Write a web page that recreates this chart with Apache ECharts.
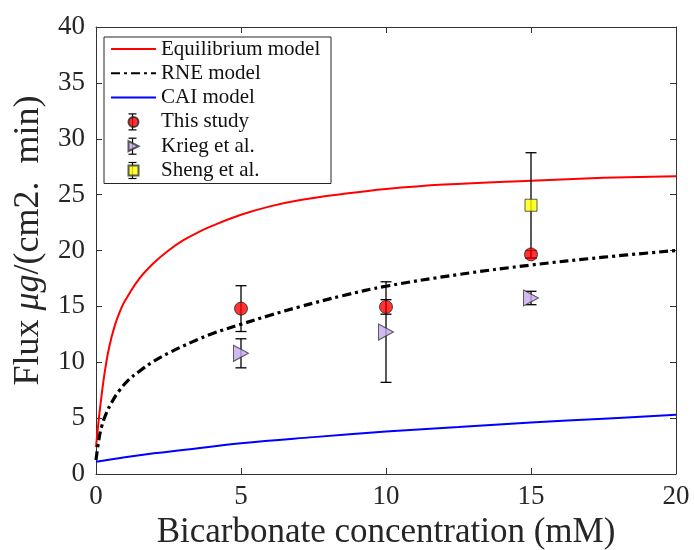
<!DOCTYPE html>
<html><head><meta charset="utf-8">
<script src="https://cdn.jsdelivr.net/npm/echarts@6/dist/echarts.min.js"></script>
<style>html,body{margin:0;padding:0;background:#fff}#c{width:694px;height:550px}</style>
</head><body><div id="c"></div>
<script>
// ---- data ----
const xTicks = [0, 5, 10, 15, 20];
const yTicks = [0, 5, 10, 15, 20, 25, 30, 35, 40];

const equilibriumX = [0, 0.1, 0.2, 0.3, 0.45, 0.65, 0.85, 1.0, 1.5, 2.0, 2.5, 3.0, 3.5, 4.0, 5.0, 6.0, 7.0, 8.5, 10, 12, 15, 17.5, 20];
const equilibriumY = [2.4, 5.0, 7.2, 9.1, 11.3, 13.3, 14.7, 15.5, 17.5, 18.9, 20.0, 20.9, 21.6, 22.2, 23.2, 23.95, 24.5, 25.05, 25.5, 25.9, 26.25, 26.5, 26.65];

const rneX = [0, 0.1, 0.2, 0.35, 0.55, 0.8, 1.1, 1.5, 2.0, 2.6, 3.3, 4.0, 5.0, 6.0, 7.0, 8.5, 10, 12.5, 15, 17.5, 20];
const rneY = [1.25, 3.1, 4.3, 5.4, 6.45, 7.45, 8.35, 9.2, 10.1, 10.95, 11.8, 12.55, 13.4, 14.2, 14.95, 15.95, 16.8, 17.85, 18.7, 19.4, 20.0];

const caiX = [0, 1, 2, 3, 5, 7.5, 10, 12.5, 15, 17.5, 20];
const caiY = [1.1, 1.5, 1.85, 2.15, 2.75, 3.3, 3.8, 4.2, 4.6, 4.95, 5.3];

const studyX = [5, 10, 15];
const studyY = [14.8, 14.95, 19.65];
const studyErr = [2.05, 0.65, 0.35];

const kriegX = [5, 10, 15];
const kriegY = [10.8, 12.7, 15.75];
const kriegErr = [1.3, 4.5, 0.6];

const shengX = [15];
const shengY = [24.05];
const shengErr = [4.7];

const seriesNames = ['Equilibrium model', 'RNE model', 'CAI model', 'This study', 'Krieg et al.', 'Sheng et al.'];

// ---- build chart ----
const FONT = '"Liberation Serif", "Times New Roman", serif';
const zip = (xs, ys) => xs.map((x, i) => [x, ys[i]]);
const errData = (xs, ys, es) => xs.map((x, i) => [x, ys[i] - es[i], ys[i] + es[i]]);

function errRender(params, api) {
  const x = api.value(0), lo = api.value(1), hi = api.value(2);
  const pHi = api.coord([x, hi]), pLo = api.coord([x, lo]);
  const w = 5.5;
  const st = { stroke: '#000', lineWidth: 1.3, fill: null };
  return {
    type: 'group',
    children: [
      { type: 'line', shape: { x1: pHi[0], y1: pHi[1], x2: pLo[0], y2: pLo[1] }, style: st },
      { type: 'line', shape: { x1: pHi[0] - w, y1: pHi[1], x2: pHi[0] + w, y2: pHi[1] }, style: st },
      { type: 'line', shape: { x1: pLo[0] - w, y1: pLo[1], x2: pLo[0] + w, y2: pLo[1] }, style: st }
    ]
  };
}

const axisColor = '#333333';
const tickStyle = { show: true, inside: true, length: 6, lineStyle: { color: axisColor, width: 1 } };
const labelStyle = { fontFamily: FONT, fontSize: 27, color: '#262626' };

const triPath = 'path://M0,0 L10,5 L0,10 Z';
const sqPath = 'path://M0,0 L10,0 L10,10 L0,10 Z';

// legend error-bar glyphs (decoration of legend icons)
const legTop = 37, legPadTop = 1, rowStep = 24.3, rowH = 22;
const iconCx = 104 + 6 + 22.5;
const legendGlyphs = [3, 4, 5].map(i => {
  const cy = legTop + legPadTop + rowH / 2 + i * rowStep;
  const h = 8, w = 4;
  const s = { stroke: '#000', lineWidth: 1.2 };
  return {
    type: 'group', z: 1,
    children: [
      { type: 'line', shape: { x1: iconCx, y1: cy - h, x2: iconCx, y2: cy + h }, style: s },
      { type: 'line', shape: { x1: iconCx - w, y1: cy - h, x2: iconCx + w, y2: cy - h }, style: s },
      { type: 'line', shape: { x1: iconCx - w, y1: cy + h, x2: iconCx + w, y2: cy + h }, style: s }
    ]
  };
});

const hiddenSym = { color: 'rgba(0,0,0,0)', borderColor: 'rgba(0,0,0,0)', borderWidth: 0 };
const legendData = seriesNames.map((n, i) => i < 3 ? { name: n, itemStyle: hiddenSym } : { name: n });

const option = {
  backgroundColor: '#fff',
  animation: false,
  grid: { left: 96, right: 18, top: 27, bottom: 76, containLabel: false, outerBoundsMode: 'none' },
  legend: {
    data: legendData,
    orient: 'vertical',
    left: 104, top: legTop,
    padding: [legPadTop, 7, 2, 6],
    itemWidth: 45, itemHeight: 10, itemGap: rowStep - rowH,
    borderColor: '#262626', borderWidth: 1,
    backgroundColor: 'transparent',
    z: 4,
    textStyle: { fontFamily: FONT, fontSize: 21, color: '#111', lineHeight: rowH, width: 163 }
  },
  graphic: legendGlyphs,
  xAxis: [
    {
      type: 'value', min: xTicks[0], max: xTicks[xTicks.length - 1], interval: 5, position: 'bottom',
      axisLine: { show: true, onZero: false, lineStyle: { color: axisColor, width: 1 } },
      axisTick: tickStyle, splitLine: { show: false },
      axisLabel: Object.assign({ margin: 9 }, labelStyle),
      name: 'Bicarbonate concentration (mM)', nameLocation: 'middle', nameGap: 40,
      nameTextStyle: { fontFamily: FONT, fontSize: 35, color: '#262626' }
    },
    {
      type: 'value', min: xTicks[0], max: xTicks[xTicks.length - 1], interval: 5, position: 'top',
      axisLine: { show: true, onZero: false, lineStyle: { color: axisColor, width: 1 } },
      axisTick: tickStyle, splitLine: { show: false }, axisLabel: { show: false }
    }
  ],
  yAxis: [
    {
      type: 'value', min: yTicks[0], max: yTicks[yTicks.length - 1], interval: 5, position: 'left',
      axisLine: { show: true, onZero: false, lineStyle: { color: axisColor, width: 1 } },
      axisTick: tickStyle, splitLine: { show: false },
      axisLabel: Object.assign({ margin: 11 }, labelStyle),
      name: 'Flux {it|μg}/(cm2.  min)', nameLocation: 'middle', nameGap: 49,
      nameTextStyle: {
        fontFamily: FONT, fontSize: 36, color: '#262626', padding: [0, 0, 0, 20],
        rich: { it: { fontFamily: FONT, fontSize: 36, fontStyle: 'italic', color: '#262626' } }
      }
    },
    {
      type: 'value', min: yTicks[0], max: yTicks[yTicks.length - 1], interval: 5, position: 'right',
      axisLine: { show: true, onZero: false, lineStyle: { color: axisColor, width: 1 } },
      axisTick: tickStyle, splitLine: { show: false }, axisLabel: { show: false }
    }
  ],
  series: [
    { name: seriesNames[0], type: 'line', data: zip(equilibriumX, equilibriumY), showSymbol: false, symbol: 'none',
      smooth: 0.4, lineStyle: { color: '#ff0000', width: 2 }, itemStyle: { color: '#ff0000' }, z: 2 },
    { name: seriesNames[1], type: 'line', data: zip(rneX, rneY), showSymbol: false, symbol: 'none',
      smooth: 0.4, lineStyle: { color: '#000', width: 3.2, type: [9, 4, 3, 4] }, itemStyle: { color: '#000' }, z: 2 },
    { name: seriesNames[2], type: 'line', data: zip(caiX, caiY), showSymbol: false, symbol: 'none',
      smooth: 0.4, lineStyle: { color: '#0000ff', width: 2 }, itemStyle: { color: '#0000ff' }, z: 2 },

    { type: 'custom', renderItem: errRender, data: errData(studyX, studyY, studyErr), z: 3, silent: true },
    { name: seriesNames[3], type: 'scatter', data: zip(studyX, studyY), symbol: 'circle', symbolSize: 13,
      itemStyle: { color: '#ff0000', borderColor: '#222', borderWidth: 1 }, z: 3 },

    { type: 'custom', renderItem: errRender, data: errData(kriegX, kriegY, kriegErr), z: 3, silent: true },
    { name: seriesNames[4], type: 'scatter', data: zip(kriegX, kriegY), symbol: triPath, symbolSize: [15, 16],
      itemStyle: { color: '#c8a8ee', borderColor: '#333', borderWidth: 1 }, z: 3 },

    { type: 'custom', renderItem: errRender, data: errData(shengX, shengY, shengErr), z: 3, silent: true },
    { name: seriesNames[5], type: 'scatter', data: zip(shengX, shengY), symbol: sqPath, symbolSize: 12,
      itemStyle: { color: '#ffff00', borderColor: '#333', borderWidth: 1 }, z: 3 }
  ]
};

const chart = echarts.init(document.getElementById('c'), null, { renderer: 'canvas' });
chart.setOption(option);
</script>
</body></html>
